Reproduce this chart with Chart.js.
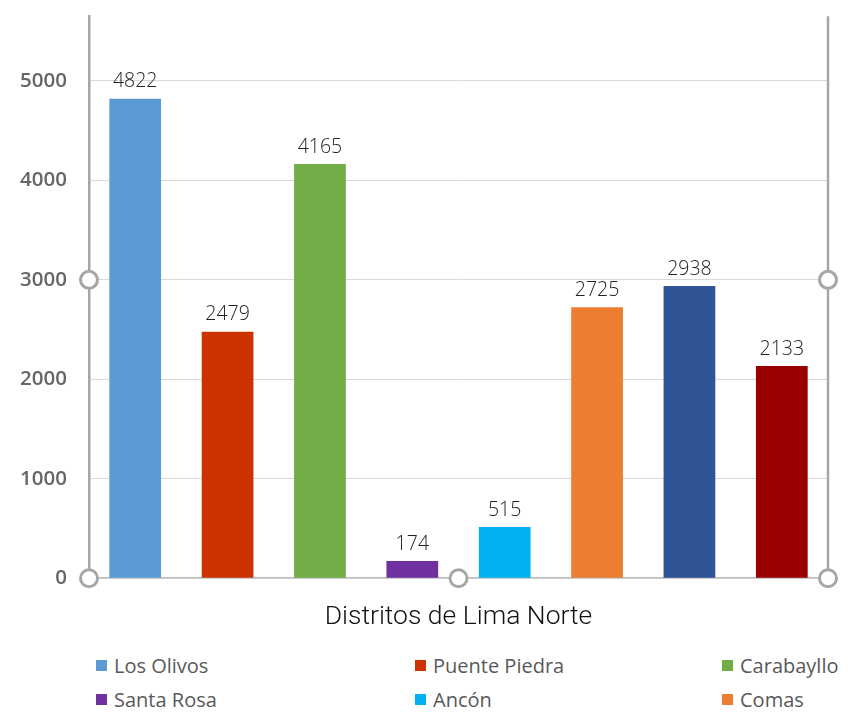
<!DOCTYPE html>
<html>
<head>
<meta charset="utf-8">
<script src="https://cdn.jsdelivr.net/npm/chart.js@4/dist/chart.umd.min.js"></script>
<style>
  html, body { margin: 0; padding: 0; background: #fff; overflow: hidden; }
  body { width: 861px; height: 713px; }
  #graphContainer { position: relative; width: 861px; height: 662px; margin-top: -18px; }
  #legend {
    display: grid;
    grid-template-columns: 319px 307px 200px;
    margin-left: 96px;
    row-gap: 7px;
    font-family: "Open Sans", sans-serif;
    font-size: 20px;
    color: #595959;
    margin-top: 8px;
  }
  .item { display: flex; align-items: center; white-space: nowrap; }
  .box { width: 11px; height: 11px; margin-right: 7px; }
</style>
</head>
<body>
<div id="graphContainer"><canvas id="chart"></canvas></div>
<div id="legend"></div>
<script>
const districts = ["Los Olivos", "Puente Piedra", "Carabayllo", "Santa Rosa", "Ancón", "Comas", "Independencia", "San Martín de Porres"];
const counts = [4822, 2479, 4165, 174, 515, 2725, 2938, 2133];
const colors = ["#5B9BD5", "#CC3300", "#70AD47", "#7030A0", "#00B0F0", "#ED7D31", "#2F5597", "#990000"];
const yTicks = [0, 1000, 2000, 3000, 4000, 5000];

// legend below the chart, 3 columns like the excel one
const legend = document.getElementById("legend");
districts.forEach((d, i) => {
  const item = document.createElement("div");
  item.className = "item";
  item.innerHTML = `<span class="box" style="background:${colors[i]}"></span>${d}`;
  legend.appendChild(item);
});

// value labels over each bar
const valueLabels = {
  id: "valueLabels",
  afterDatasetsDraw(chart) {
    const ctx = chart.ctx;
    ctx.save();
    ctx.font = "300 19.5px 'Open Sans'";
    ctx.fillStyle = "#222222";
    ctx.textAlign = "center";
    ctx.textBaseline = "bottom";
    chart.getDatasetMeta(0).data.forEach((bar, i) => {
      ctx.fillText(counts[i], bar.x, bar.y - 7);
    });
    ctx.restore();
  }
};

// selection frame: right line + the little circle handles
const frameHandles = {
  id: "frameHandles",
  afterDraw(chart) {
    const ctx = chart.ctx;
    const a = chart.chartArea;
    const y = chart.scales.y;
    const mid = y.getPixelForValue(3000);
    ctx.save();
    ctx.strokeStyle = "#A6A6A6";
    ctx.lineWidth = 2.5;
    ctx.beginPath();
    ctx.moveTo(a.right, a.top);
    ctx.lineTo(a.right, a.bottom);
    ctx.stroke();
    const pts = [[a.left, mid], [a.left, a.bottom], [(a.left + a.right) / 2, a.bottom], [a.right, a.bottom], [a.right, mid]];
    ctx.lineWidth = 3;
    ctx.fillStyle = "#fff";
    pts.forEach(([px, py]) => {
      ctx.beginPath();
      ctx.arc(px, py, 8.5, 0, Math.PI * 2);
      ctx.fill();
      ctx.stroke();
    });
    ctx.restore();
  }
};

new Chart(document.getElementById("chart").getContext("2d"), {
  type: "bar",
  data: {
    labels: districts,
    datasets: [
      {
        data: counts,
        backgroundColor: colors,
        borderWidth: 0,
        barPercentage: 0.56,
        categoryPercentage: 1,
      },
    ],
  },
  options: {
    responsive: true,
    maintainAspectRatio: false,
    animation: false,
    layout: { padding: { top: -6, right: 33, bottom: 6, left: 0 } },
    scales: {
      x: {
        grid: { display: false },
        border: { display: true, color: "#BFBFBF", width: 1.5 },
        ticks: { display: false },
        title: {
          display: true,
          text: "Distritos de Lima Norte",
          color: "#111",
          font: { family: "Roboto", size: 26.5, weight: 300 },
          padding: { top: 15, bottom: 5 },
        },
      },
      y: {
        min: 0,
        max: 5650,
        afterBuildTicks: (axis) => {
          axis.ticks = yTicks.map((v) => ({ value: v }));
        },
        afterFit: (axis) => {
          axis.width = 89;
        },
        grid: { color: "#D9D9D9", lineWidth: 1, drawTicks: false },
        border: { display: true, color: "#A6A6A6", width: 2.5 },
        ticks: {
          color: "#666666",
          padding: 22,
          font: { family: "Open Sans", size: 20.5, weight: 600 },
          callback: (v) => String(v),
        },
      },
    },
    plugins: {
      legend: { display: false },
      tooltip: { enabled: false },
    },
  },
  plugins: [valueLabels, frameHandles],
});
</script>
</body>
</html>
